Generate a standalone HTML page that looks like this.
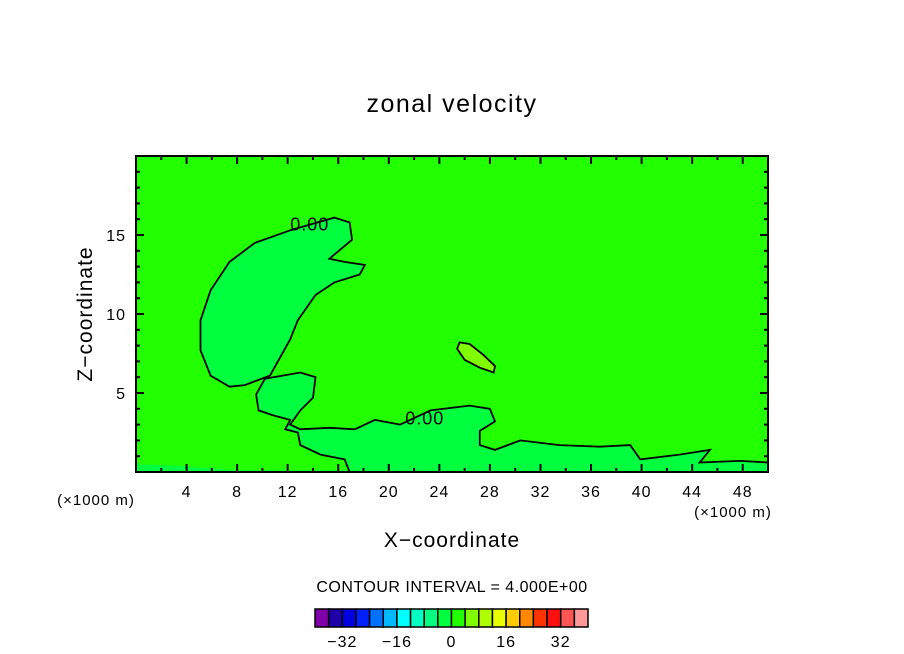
<!DOCTYPE html>
<html><head><meta charset="utf-8"><style>
body{margin:0;background:#fff;width:904px;height:654px;overflow:hidden}
svg{display:block;font-family:"Liberation Sans",sans-serif}
</style></head><body>
<svg id="chart" width="904" height="654">
<text x="452" y="112" text-anchor="middle" font-size="25" letter-spacing="1.5">zonal velocity</text>
<g id="plot"></g>
<text x="452" y="547" text-anchor="middle" font-size="21" letter-spacing="1">X−coordinate</text>
<text x="0" y="0" transform="translate(92,314) rotate(-90)" text-anchor="middle" font-size="21" letter-spacing="1">Z−coordinate</text>
<text x="96" y="505" text-anchor="middle" font-size="15" letter-spacing="1">(×1000 m)</text>
<text x="733" y="517" text-anchor="middle" font-size="15" letter-spacing="1">(×1000 m)</text>
<text x="452" y="592" text-anchor="middle" font-size="16" letter-spacing="0.5">CONTOUR INTERVAL = 4.000E+00</text>
<g id="cbar"></g>
</svg>
<script>
const xTicks=[4,8,12,16,20,24,28,32,36,40,44,48];
const yTicks=[5,10,15];
const xDomain=[0,50], yDomain=[0,20];
const cbarColors=["#7f00a8","#1f00a8","#0000e0","#0020ff","#0070ff","#00b8ff","#00ffff","#00ffc0","#00ff80","#00ff3f","#22ff00","#80ff00","#b0ff00","#e8ff00","#ffcc00","#ff8800","#ff3300","#ff1010","#ff5555","#ff9999"];
const cbarLabels=[-32,-16,0,16,32];
const cbarMin=-40, cbarStep=4;
const negRegionUpper=[[12.2,15.3],[15.7,16.1],[16.9,15.8],[17.1,14.7],[15.3,13.5],[16.5,13.3],[18.1,13.1],[17.7,12.5],[15.7,12.0],[14.2,11.2],[12.8,9.6],[12.2,8.4],[10.6,6.1],[8.6,5.5],[7.4,5.4],[5.9,6.1],[5.1,7.7],[5.1,9.6],[5.9,11.5],[7.4,13.3],[9.4,14.5]];
const negRegionLower=[[10.2,5.9],[13.0,6.3],[14.2,6.0],[14.0,4.7],[13.0,3.9],[12.2,3.0],[13.0,2.7],[15.3,2.8],[17.3,2.7],[18.9,3.3],[20.9,3.0],[23.3,3.9],[26.4,4.2],[28.0,4.0],[28.4,3.2],[27.2,2.6],[27.2,1.7],[28.4,1.4],[30.4,2.0],[33.5,1.7],[36.7,1.6],[39.1,1.7],[39.9,0.8],[43.0,1.1],[45.4,1.4],[44.6,0.6],[47.8,0.7],[50,0.6],[50,0],[16.9,0],[16.5,0.8],[14.6,1.1],[13.0,1.7],[12.8,2.5],[11.8,2.7],[12.2,3.3],[10.8,3.6],[9.7,3.9],[9.5,4.9]];
const posBlob=[[25.6,8.2],[26.4,8.1],[27.5,7.4],[28.4,6.7],[28.3,6.3],[27.2,6.6],[26.0,7.1],[25.4,7.8]];
const bottomStrip=[[0,0.5],[3,0.4],[8,0.1],[50,0.1],[50,0],[0,0]];
const X0=136,X1=768,Y0=472,Y1=156;
const sx=v=>X0+(v-xDomain[0])/(xDomain[1]-xDomain[0])*(X1-X0);
const sy=v=>Y0-(v-yDomain[0])/(yDomain[1]-yDomain[0])*(Y0-Y1);
const NS="http://www.w3.org/2000/svg";
function mk(t,a,p){const e=document.createElementNS(NS,t);for(const k in a)e.setAttribute(k,a[k]);p.appendChild(e);return e;}
const plot=document.getElementById('plot');
const bg=mk('rect',{x:X0,y:Y1,width:X1-X0,height:Y0-Y1,fill:"#22ff00"},plot);


function poly(pts,fill,name){const d=pts.map(p=>sx(p[0]).toFixed(1)+","+sy(p[1]).toFixed(1)).join(" ");const e=mk('polygon',{points:d,fill:fill,stroke:"#000","stroke-width":1.8},plot);

}
const bs=mk('polygon',{points:bottomStrip.map(p=>sx(p[0])+","+sy(p[1])).join(" "),fill:"#00ff3f"},plot);


poly(negRegionUpper,"#00ff3f","contour-region-upper");
poly(negRegionLower,"#00ff3f","contour-region-lower");
poly(posBlob,"#80ff00","contour-positive-blob");
function lbl(x,y,name){const t=mk('text',{x:sx(x),y:sy(y),"font-size":18,"letter-spacing":1},plot);t.textContent="0.00";

}
lbl(12.2,15.3,"contour-label-upper");lbl(21.3,3.0,"contour-label-lower");
const fr=mk('rect',{x:X0,y:Y1,width:X1-X0,height:Y0-Y1,fill:"none",stroke:"#000","stroke-width":2},plot);


for(let v=2;v<50;v+=2){const L=(v%4===0)?8:4;
mk('line',{x1:sx(v),x2:sx(v),y1:Y0,y2:Y0-L,stroke:"#000","stroke-width":2},plot);
mk('line',{x1:sx(v),x2:sx(v),y1:Y1,y2:Y1+L,stroke:"#000","stroke-width":2},plot);}
for(let v=1;v<20;v++){const L=(v%5===0)?8:4;
mk('line',{x1:X0,x2:X0+L,y1:sy(v),y2:sy(v),stroke:"#000","stroke-width":2},plot);
mk('line',{x1:X1,x2:X1-L,y1:sy(v),y2:sy(v),stroke:"#000","stroke-width":2},plot);}
xTicks.forEach(v=>{const t=mk('text',{x:sx(v),y:497,"text-anchor":"middle","font-size":16,"letter-spacing":1},plot);t.textContent=v;

});
yTicks.forEach(v=>{const t=mk('text',{x:126,y:sy(v)+6,"text-anchor":"end","font-size":16,"letter-spacing":1},plot);t.textContent=v;

});
const cb=document.getElementById('cbar');
const cx0=315,cw=(588-315)/cbarColors.length,cy=609,ch=18;
cbarColors.forEach((c,i)=>{const r=mk('rect',{x:cx0+i*cw,y:cy,width:cw,height:ch,fill:c,stroke:"#000","stroke-width":1.5},cb);

});
cbarLabels.forEach(v=>{const i=(v-cbarMin)/cbarStep;const t=mk('text',{x:cx0+i*cw,y:647,"text-anchor":"middle","font-size":16,"letter-spacing":1},cb);t.textContent=v<0?"−"+(-v):v;

});
</script>
</body></html>
